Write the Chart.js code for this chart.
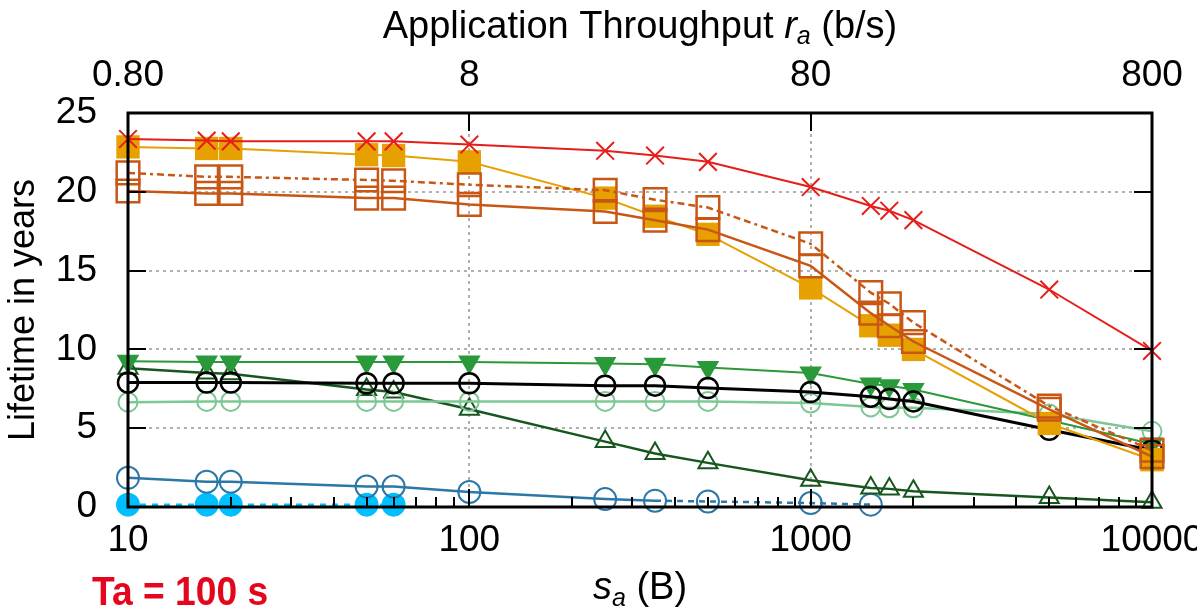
<!DOCTYPE html>
<html>
<head>
<meta charset="utf-8">
<script src="https://cdn.jsdelivr.net/npm/chart.js@4.4.1/dist/chart.umd.min.js"></script>
<style>
html, body { margin: 0; padding: 0; background: #fff; }
canvas { display: block; }
</style>
</head>
<body>
<canvas id="chartLifetime" width="1197" height="610"></canvas>
<script>
// tailles des paquets s_a (B)
let sizes = [10, 17, 20, 50, 60, 100, 250, 350, 500, 1000, 1500, 1700, 2000, 5000, 10000]

// duree de vie en annees pour chaque courbe
let lifeRed = [23.35, 23.25, 23.2, 23.2, 23.2, 23.0, 22.6, 22.3, 21.9, 20.3, 19.1, 18.8, 18.2, 13.8, 9.9]
let lifeRustDash = [21.2, 20.95, 20.95, 20.75, 20.7, 20.45, 20.1, 19.5, 19.0, 16.7, 13.6, 12.9, 11.7, 6.4, 3.6]
let lifeRust = [20.05, 19.9, 19.9, 19.6, 19.6, 19.2, 18.75, 18.2, 17.6, 15.3, 12.3, 11.5, 10.5, 6.2, 3.2]
let lifeOrange = [22.85, 22.75, 22.75, 22.35, 22.3, 21.9, 19.6, 18.45, 17.3, 13.9, 11.5, 10.9, 10.0, 5.3, 3.0]
let lifeBlack = [7.9, 7.9, 7.9, 7.85, 7.85, 7.85, 7.7, 7.7, 7.55, 7.3, 7.0, 6.85, 6.7, 4.9, 3.6]
let lifeGreen = [9.25, 9.2, 9.2, 9.2, 9.2, 9.2, 9.1, 9.05, 8.85, 8.5, 7.8, 7.7, 7.45, 5.5, 4.0]
let lifeLightGreen = [6.65, 6.7, 6.7, 6.7, 6.7, 6.7, 6.7, 6.7, 6.7, 6.6, 6.35, 6.3, 6.3, 5.9, 4.8]
let lifeDarkGreen = [8.8, 8.5, 8.45, 7.45, 7.3, 6.2, 4.15, 3.4, 2.8, 1.7, 1.2, 1.15, 1.0, 0.6, 0.3]
let lifeBlue = [1.85, 1.6, 1.6, 1.3, 1.3, 0.95, 0.5, 0.4, 0.35, 0.25, 0.15]
let lifeCyan = [0.15, 0.15, 0.15, 0.15, 0.15]

// graduations
let xTicks = [10, 100, 1000, 10000]
let x2Ticks = [0.8, 8, 80, 800]
let yTicks = [0, 5, 10, 15, 20, 25]

const tickFont = { family: "'Liberation Sans', Arial, sans-serif", size: 37 }

function toPoints(values){
    return values.map((v, i) => ({ x: sizes[i], y: v }))
}

function serie(values, color, style, extra){
    return Object.assign({
        data: toPoints(values),
        borderColor: color,
        backgroundColor: color,
        pointBorderColor: color,
        pointBackgroundColor: 'rgba(0,0,0,0)',
        pointStyle: style,
        borderWidth: 2,
        pointBorderWidth: 2,
        pointRadius: 10,
        tension: 0,
        clip: false,
    }, extra)
}

let datasets = [
    serie(lifeRed, '#e61e19', 'crossRot', { pointRadius: 12.5 }),
    serie(lifeRustDash, '#c85716', 'rect', { pointRadius: 16, borderDash: [7, 4, 7, 4, 3, 4], borderWidth: 2.5, pointBorderWidth: 2.5 }),
    serie(lifeRust, '#c85716', 'rect', { pointRadius: 16, borderWidth: 2.5, pointBorderWidth: 2.5 }),
    serie(lifeOrange, '#e6a000', 'rect', { pointRadius: 16.5, pointBackgroundColor: '#e6a000', pointBorderWidth: 0 }),
    serie(lifeBlack, '#000000', 'circle', { borderWidth: 3, pointBorderWidth: 2.5 }),
    serie(lifeGreen, '#2a993a', 'triangle', { pointRadius: 13, pointRotation: 180, pointBackgroundColor: '#2a993a', pointBorderWidth: 0 }),
    serie(lifeLightGreen, '#7cc794', 'circle', { pointRadius: 9.5, borderWidth: 2.5 }),
    serie(lifeDarkGreen, '#17571f', 'triangle', { pointRadius: 11, borderWidth: 2.5 }),
    serie(lifeBlue, '#2a77a8', 'circle', { pointRadius: 11, borderWidth: 2.5, segment: { borderDash: c => c.p0DataIndex >= 7 ? [6, 5] : undefined } }),
    serie(lifeCyan, '#00bfff', 'circle', { pointRadius: 11, pointBackgroundColor: '#00bfff', borderDash: [6, 6], borderWidth: 2.5 }),
]

// dessine un texte en plusieurs morceaux (italique, indice) centre sur cx
function drawParts(ctx, parts, cx, baseY){
    let total = 0
    parts.forEach(p => { ctx.font = p.font; p.w = ctx.measureText(p.text).width; total += p.w })
    let xPos = cx - total / 2
    parts.forEach(p => {
        ctx.font = p.font
        ctx.fillStyle = p.color || '#000'
        ctx.fillText(p.text, xPos, baseY + (p.dy || 0))
        xPos += p.w
    })
}

// pas de marge automatique pour les libelles qui depassent
function noOverhang(s){
    s.paddingLeft = 0
    s.paddingRight = 0
    s.paddingTop = 0
    s.paddingBottom = 0
}

const decorPlugin = {
    id: 'decor',
    afterDatasetsDraw(chart){
        const ctx = chart.ctx
        const a = chart.chartArea
        const x = chart.scales.x
        const y = chart.scales.y
        ctx.save()
        ctx.strokeStyle = '#000'
        ctx.lineWidth = 2
        const seg = (x1, y1, x2, y2) => { ctx.beginPath(); ctx.moveTo(x1, y1); ctx.lineTo(x2, y2); ctx.stroke() }
        //graduations vers l'interieur
        for (let d = 10; d <= 10000; d *= 10){
            for (let m = 1; m < 10; m++){
                let v = d * m
                if (v > 10000) break
                let px = Math.round(x.getPixelForValue(v))
                let len = m === 1 ? 18 : 10
                seg(px, a.bottom, px, a.bottom - len)
                if (m === 1) seg(px, a.top, px, a.top + len)
            }
        }
        yTicks.forEach(v => {
            let py = Math.round(y.getPixelForValue(v))
            seg(a.left, py, a.left + 18, py)
            seg(a.right, py, a.right - 18, py)
        })
        ctx.lineWidth = 3
        ctx.strokeRect(a.left, a.top, a.right - a.left, a.bottom - a.top)
        ctx.restore()
    },
    afterDraw(chart){
        const ctx = chart.ctx
        const a = chart.chartArea
        const cx = (a.left + a.right) / 2
        const fam = "'Liberation Sans', Arial, sans-serif"
        ctx.save()
        ctx.textBaseline = 'alphabetic'
        ctx.textAlign = 'left'
        drawParts(ctx, [
            { text: 'Application Throughput ', font: '38px ' + fam },
            { text: 'r', font: 'italic 38px ' + fam },
            { text: 'a', font: 'italic 25px ' + fam, dy: 6 },
            { text: ' (b/s)', font: '38px ' + fam },
        ], cx, 38)
        drawParts(ctx, [
            { text: 's', font: 'italic 38px ' + fam },
            { text: 'a', font: 'italic 25px ' + fam, dy: 7 },
            { text: ' (B)', font: '38px ' + fam },
        ], cx, 599)
        //annotation en rouge
        ctx.save()
        ctx.translate(92, 605)
        ctx.scale(0.93, 1)
        ctx.font = 'bold 40px ' + fam
        ctx.fillStyle = '#e3061c'
        ctx.fillText('Ta = 100 s', 0, 0)
        ctx.restore()
        //titre axe y
        ctx.translate(24, (a.top + a.bottom) / 2)
        ctx.rotate(-Math.PI / 2)
        ctx.textAlign = 'center'
        ctx.textBaseline = 'middle'
        ctx.font = '36px ' + fam
        ctx.fillStyle = '#000'
        ctx.fillText('Lifetime in years', 0, 0)
        ctx.restore()
    }
}

let configLifetime = {
    type: 'line',
    data: { datasets: datasets },
    plugins: [decorPlugin],
    options: {
        responsive: false,
        animation: false,
        layout: { padding: { left: 0, right: 45, top: 0, bottom: 0 } },
        plugins: { legend: { display: false }, tooltip: { enabled: false } },
        scales: {
            x: {
                type: 'logarithmic',
                position: 'bottom',
                min: 10,
                max: 10000,
                afterBuildTicks: s => { s.ticks = xTicks.map(v => ({ value: v })) },
                afterFit: s => { s.height = 103; noOverhang(s) },
                ticks: { font: tickFont, color: '#000', padding: 12, maxRotation: 0, autoSkip: false, callback: v => String(v) },
                grid: { color: '#b0b0b0', lineWidth: 2, drawTicks: false },
                border: { display: false, dash: [3, 4] },
            },
            x2: {
                type: 'logarithmic',
                position: 'top',
                min: 0.8,
                max: 800,
                afterBuildTicks: s => { s.ticks = x2Ticks.map(v => ({ value: v })) },
                afterFit: s => { s.height = 113; noOverhang(s) },
                ticks: { font: tickFont, color: '#000', padding: 15, maxRotation: 0, autoSkip: false, callback: v => v === 0.8 ? '0.80' : String(v) },
                grid: { display: false, drawTicks: false },
                border: { display: false },
            },
            y: {
                min: 0,
                max: 25,
                afterBuildTicks: s => { s.ticks = yTicks.map(v => ({ value: v })) },
                afterFit: s => { s.width = 128; noOverhang(s) },
                ticks: { font: tickFont, color: '#000', padding: 31 },
                grid: { color: '#b0b0b0', lineWidth: 2, drawTicks: false },
                border: { display: false, dash: [3, 4] },
            },
        },
    },
}

let chartLifetime = new Chart(document.getElementById('chartLifetime'), configLifetime)
</script>
</body>
</html>
